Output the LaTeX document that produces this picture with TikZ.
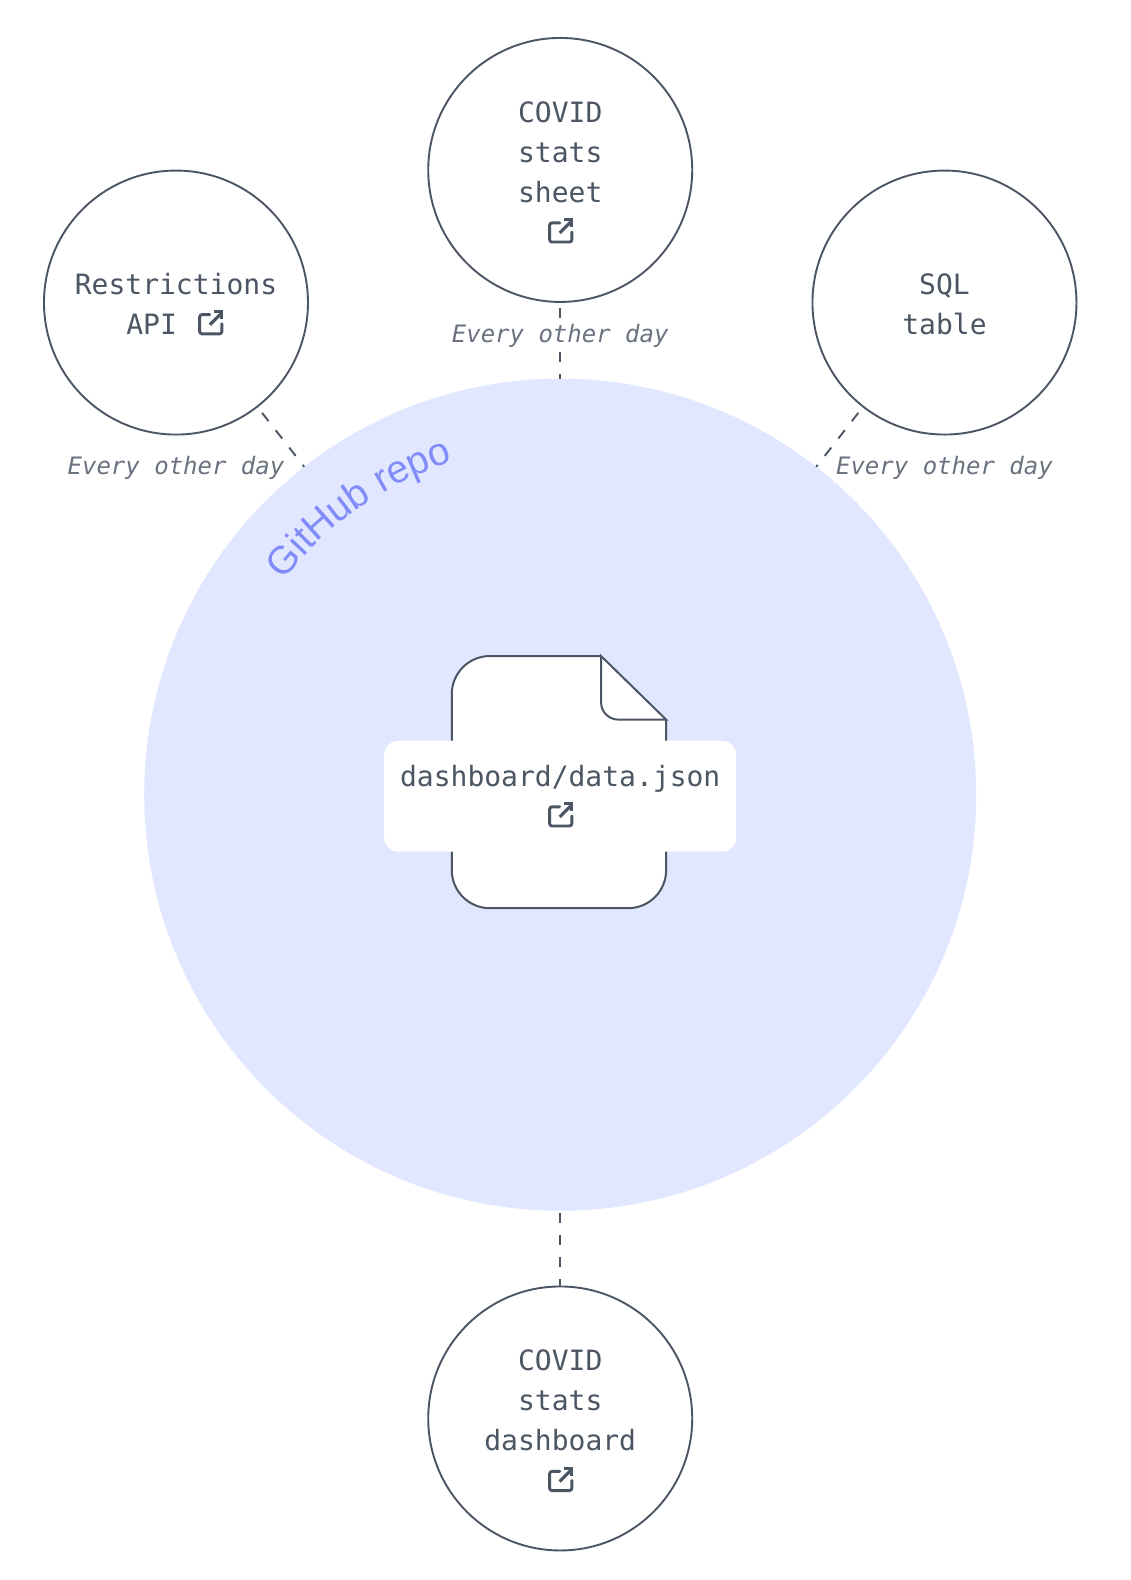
\documentclass[tikz,border=0pt]{standalone}
\usepackage{fontspec}
\usetikzlibrary{decorations.text}
\newfontfamily\codefont{DejaVu Sans Mono}
\newfontfamily\ghfont{Liberation Sans}
\definecolor{ink}{HTML}{4B5563}
\definecolor{soft}{HTML}{6B7280}
\definecolor{repofill}{HTML}{E0E7FF}
\definecolor{repotext}{HTML}{818CF8}
\newcommand{\lifttext}{\rule{0pt}{12.4pt}}
\tikzset{
  x=0.50425pt,y=-0.50425pt,
  sourcenode/.style={circle,draw=ink,line width=0.95pt,fill=white,minimum size=132pt,inner sep=0pt,align=center,text=ink,font=\codefont\fontsize{14}{20}\selectfont},
  reponode/.style={circle,fill=repofill,minimum size=416pt,inner sep=0pt,outer sep=0pt},
  link/.style={draw=ink,line width=0.95pt,dash pattern=on 5.3pt off 5.7pt,dash phase=7.5pt},
  freq/.style={fill=white,inner sep=1.5pt,text=soft,font=\codefont\itshape\fontsize{12}{14}\selectfont},
  filelabel/.style={fill=white,rounded corners=7pt,minimum width=176pt,minimum height=55.5pt,inner sep=0pt,align=center,text=ink,font=\codefont\fontsize{14}{20}\selectfont},
  fileshape/.style={draw=ink,line width=1pt,fill=white},
  extlink/.pic={
    \draw[ink,line width=1.45pt,rounded corners=1.2pt,line cap=round] (-1,-8)--(-11,-8)--(-11,11)--(11,11)--(11,1);
    \draw[ink,line width=1.6pt] (-1,2)--(10,-9);
    \draw[ink,line width=1.6pt,miter limit=10] (3.5,-11)--(11,-11)--(11,-3.5);
  }
}
\begin{document}
\begin{tikzpicture}
\useasboundingbox (0,0) rectangle (1120.48,1566.68);
\node[reponode] (repo) at (555.5,788) {};
\path[decorate,decoration={text along path,text align=center,text={|\ghfont\fontsize{19.5}{22}\selectfont\color{repotext}|GitHub repo}}]
  (repo.center) ++(-146:347) arc[start angle=-146,end angle=-104,radius=347];
\draw[fileshape,rounded corners=19pt] (596,650.5)--(448,650.5)--(448,900.5)--(660.5,900.5)--(660.5,713.5);
\fill[white] (596,650.5)--(660.5,713.5)--(660.5,760)--(596,760)--cycle;
\draw[fileshape] (660.5,713.5)--(660.5,740);
\draw[fileshape,fill=white] (596,650.5)--(660.5,713.5)--(613,713.5) arc[start angle=90,end angle=180,radius=17]--cycle;
\node[filelabel] (file) at (555.5,789.5) {dashboard/data.json\\\mbox{}};
\pic at (556,808) {extlink};
\node[sourcenode] (rest) at (174.5,300) {\lifttext Restrictions\\API\hspace{24.4pt}\mbox{}};
\node[sourcenode] (sheet) at (555.5,168.5) {\lifttext COVID\\stats\\sheet\\\mbox{}};
\node[sourcenode] (sql) at (936.5,300) {\lifttext SQL\\table};
\node[sourcenode] (dash) at (555.5,1406.5) {\lifttext COVID\\stats\\dashboard\\\mbox{}};
\pic at (209,320) {extlink};
\pic at (556,229) {extlink};
\pic at (556,1467) {extlink};
\draw[link] (rest)--(repo);
\draw[link,dash phase=8.5pt] (sheet)--(repo);
\draw[link] (sql)--(repo);
\draw[link,dash phase=10pt] (repo)--(dash);
\node[freq] (f1) at (174.5,464) {Every other day};
\node[freq] (f2) at (555.5,333) {Every other day};
\node[freq] (f3) at (936.5,464) {Every other day};
\end{tikzpicture}
\end{document}
